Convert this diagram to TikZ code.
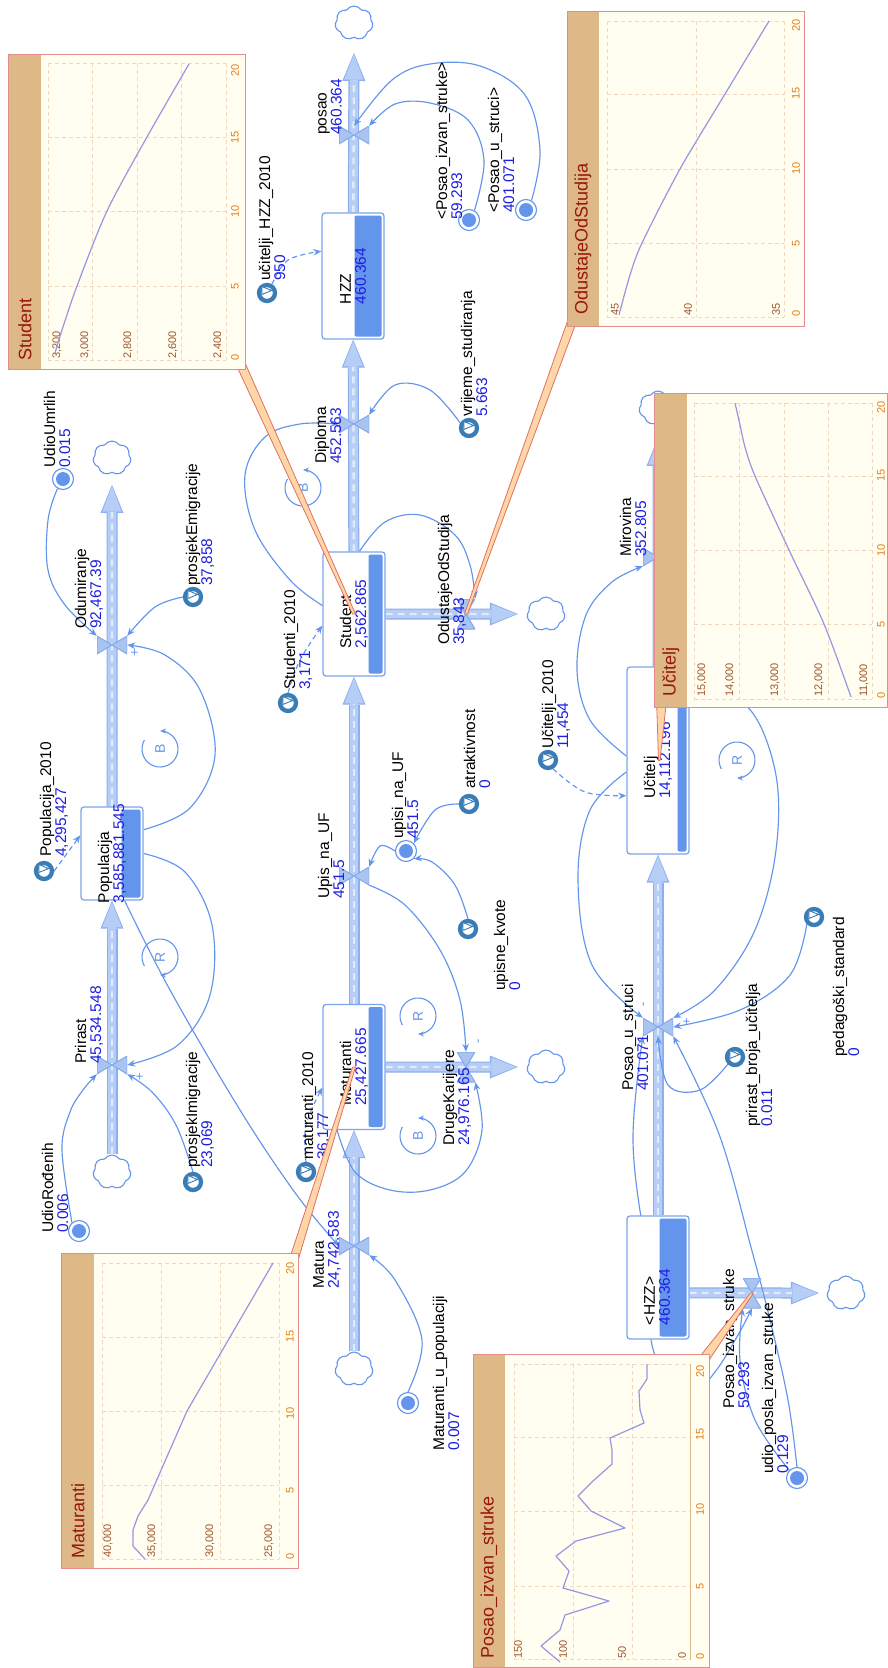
\documentclass[tikz,border=0pt]{standalone}
\usepackage{fontspec}
\setmainfont{Liberation Sans}
\usetikzlibrary{arrows.meta, shapes.geometric, shapes.symbols, calc}

\definecolor{connblue}{RGB}{100,149,237}
\definecolor{stockbar}{RGB}{100,149,237}
\definecolor{stockedge}{RGB}{125,165,236}
\definecolor{pipefill}{RGB}{182,205,246}
\definecolor{pipeedge}{RGB}{140,175,238}
\definecolor{valvefill}{RGB}{170,196,242}
\definecolor{valveedge}{RGB}{130,168,236}
\definecolor{valblue}{RGB}{30,30,225}
\definecolor{iconblue}{RGB}{58,125,182}
\definecolor{chartbg}{RGB}{255,254,240}
\definecolor{stripc}{RGB}{222,184,135}
\definecolor{chartedge}{RGB}{226,140,140}
\definecolor{titlec}{RGB}{150,22,12}
\definecolor{gridc}{RGB}{240,216,192}
\definecolor{ticktime}{RGB}{228,125,20}
\definecolor{tickval}{RGB}{160,85,45}
\definecolor{curvec}{RGB}{150,150,226}
\definecolor{calloutedge}{RGB}{226,112,96}
\definecolor{calloutfill}{RGB}{255,214,168}

\newcommand{\val}[1]{\textcolor{valblue}{#1}}
\newcommand{\lblfont}{\fontsize{15.5}{15}\selectfont}
\newcommand{\tickfont}{\fontsize{11}{11}\selectfont}
\newcommand{\barw}{15pt}

\pgfdeclarelayer{paper}
\pgfdeclarelayer{pipes}
\pgfdeclarelayer{callouts}
\pgfdeclarelayer{charts}
\pgfsetlayers{paper,pipes,main,callouts,charts}

\begin{document}
\begin{tikzpicture}[x=1pt, y=-1pt,
  stock/.style={rectangle, rounded corners=3pt, draw=stockedge, line width=1.3pt, fill=white,
                minimum width=62pt, inner sep=0pt,
                path picture={\fill[stockbar, rounded corners=2pt]
                  ([xshift=-2.5pt, yshift=-2.5pt]path picture bounding box.north east) rectangle
                  ([xshift={-2.5pt-\barw}, yshift=2.5pt]path picture bounding box.south east);}},
  barw/.code={\renewcommand{\barw}{#1}},
  stocklbl/.style={rotate=90, align=left, inner sep=0pt, font=\lblfont},
  lbl/.style={stocklbl, anchor=west},
  cloudnd/.style={cloud, cloud puffs=7, cloud puff arc=115, aspect=1.1, draw=connblue, fill=white,
                  line width=1.1pt, minimum width=38pt, minimum height=34pt, inner sep=0pt},
  valveV/.style={rectangle, inner sep=0pt, minimum width=30pt, minimum height=18pt,
    path picture={\filldraw[draw=valveedge, fill=valvefill, line width=1pt, line join=round]
      (path picture bounding box.north west) -- (path picture bounding box.center) -- (path picture bounding box.south west) -- cycle
      (path picture bounding box.north east) -- (path picture bounding box.center) -- (path picture bounding box.south east) -- cycle;}},
  valveH/.style={rectangle, inner sep=0pt, minimum width=18pt, minimum height=30pt,
    path picture={\filldraw[draw=valveedge, fill=valvefill, line width=1pt, line join=round]
      (path picture bounding box.north west) -- (path picture bounding box.center) -- (path picture bounding box.north east) -- cycle
      (path picture bounding box.south west) -- (path picture bounding box.center) -- (path picture bounding box.south east) -- cycle;}},
  var/.style={circle, draw=connblue, fill=white, line width=1.1pt, minimum size=21pt, inner sep=0pt,
    path picture={\fill[stockbar] (path picture bounding box.center) circle (7pt);}},
  param/.style={circle, draw=iconblue, fill=white, line width=4.3pt, minimum size=16pt, inner sep=0pt,
                label={[notch]125:{}}},
  notch/.style={isosceles triangle, draw=iconblue, fill=white, line width=0.9pt, inner sep=0pt,
                minimum height=8pt, minimum width=8pt, shape border rotate=-30, label distance=-10pt},
  conn/.style={draw=connblue, line width=1.15pt, -{Stealth[length=8pt, width=6.5pt]}},
  dconn/.style={conn, dash pattern=on 5pt off 3.5pt},
  pipe/.style={draw=pipeedge, line width=11pt, -{Triangle[length=28pt, width=23pt, line width=0pt]},
    postaction={draw=pipefill, line width=8.6pt, shorten >=1.6pt, -{Triangle[length=25pt, width=19.5pt, line width=0pt]}},
    postaction={draw=white, draw opacity=0.6, line width=2.4pt, dash pattern=on 7pt off 5pt, shorten >=27pt, -}},
  sgn/.style={rotate=90, text=connblue, font=\fontsize{13}{13}\selectfont, inner sep=0pt},
  looplbl/.style={rotate=90, text=connblue, font=\fontsize{14}{14}\selectfont, inner sep=0pt},
  loopc/.style={draw=connblue, line width=1.1pt, -{Stealth[length=6pt, width=5pt]}},
  chartbox/.style={rectangle, fill=chartbg, inner sep=0pt},
  chstrip/.style={fill=stripc},
  chframe/.style={draw=chartedge, line width=1.2pt},
  chgrid/.style={draw=gridc, line width=0.8pt, dash pattern=on 4pt off 3pt},
  tlabel/.style={rotate=90, text=ticktime, font=\tickfont, inner sep=0pt},
  vlabel/.style={tlabel, text=tickval, anchor=west},
  ctitle/.style={rotate=90, anchor=west, text=titlec, font=\fontsize{18}{18}\selectfont, inner sep=0pt},
  cline/.style={draw=curvec, line width=1.2pt, line join=round},
  callout/.style={draw=calloutedge, fill=calloutfill, line width=0.8pt, line join=round}
]
\useasboundingbox (0,0) rectangle (887,1668);
\begin{pgfonlayer}{paper}
  \fill[white] (0,0) rectangle (887,1668);
\end{pgfonlayer}

% stocks
\node[stock, minimum height=93pt, barw=19pt]  (populacija) at (112,853.5) {};
\node[stock, minimum height=125pt, barw=14pt] (maturanti)  at (354,1067) {};
\node[stock, minimum height=124pt, barw=14pt] (student)    at (354,614) {};
\node[stock, minimum height=126pt, barw=27pt] (hzz)        at (353,276) {};
\node[stock, minimum height=187pt, barw=9pt]  (ucitelj)    at (658,760.5) {};
\node[stock, minimum height=123pt, barw=27pt] (hzzg)       at (658,1277.5) {};
\node[stocklbl] (tPopulacija) at (populacija) {Populacija\\\val{3,585,881.545}};
\node[stocklbl] (tMaturanti)  at (maturanti)  {Maturanti\\\val{25,427.665}};
\node[stocklbl] (tStudent)    at (student)    {Student\\\val{2,562.865}};
\node[stocklbl] (tHzz)        at (hzz)        {HZZ\\\val{460.364}};
\node[stocklbl] (tUcitelj)    at (ucitelj)    {Učitelj\\\val{14,112.196}};
\node[stocklbl] (tHzzg)       at (657,1297)   {<HZZ>\\\val{460.364}};

% clouds
\node[cloudnd] (cPrirast) at (112,1172) {};
\node[cloudnd] (cOdum)    at (112,458) {};
\node[cloudnd] (cMatura)  at (354,1369) {};
\node[cloudnd] (cPosao)   at (354,23) {};
\node[cloudnd] (cDruge)   at (546,1067) {};
\node[cloudnd] (cOdust)   at (546,614) {};
\node[cloudnd] (cMirov)   at (658,408) {};
\node[cloudnd] (cPIS)     at (846,1293) {};

% valves
\node[valveV] (vPrirast) at (112,1065) {};
\node[valveV] (vOdum)    at (112,645) {};
\node[valveV] (vMatura)  at (354,1246) {};
\node[valveV] (vUpis)    at (354,876) {};
\node[valveV] (vDiploma) at (354,424) {};
\node[valveV] (vPosao)   at (354,135) {};
\node[valveH] (vDruge)   at (466,1067) {};
\node[valveH] (vOdust)   at (466,614) {};
\node[valveV] (vPUS)     at (658,1027) {};
\node[valveV] (vMirov)   at (658,557) {};
\node[valveH] (vPIS)     at (752,1293) {};

% flow labels
\node[lbl] (lPrirast) at (89,1064)  {Prirast\\\val{45,534.548}};
\node[lbl] (lOdum)    at (89,629)   {Odumiranje\\\val{92,467.39}};
\node[lbl] (lMatura)  at (327,1289) {Matura\\\val{24,742.583}};
\node[lbl] (lUpis)    at (331,899)  {Upis\_na\_UF\\\val{451.5}};
\node[lbl] (lDiploma) at (328,464)  {Diploma\\\val{452.563}};
\node[lbl] (lPosao)   at (330,135)  {posao\\\val{460.364}};
\node[lbl] (lDruge)   at (457,1146) {DrugeKarijere\\\val{24,976.165}};
\node[lbl] (lOdust)   at (452,645)  {OdustajeOdStudija\\\val{35,843}};
\node[lbl] (lPUS)     at (635,1091) {Posao\_u\_struci\\\val{401.071}};
\node[lbl] (lMirov)   at (633,557)  {Mirovina\\\val{352.805}};
\node[lbl] (lPIS)     at (736,1409) {Posao\_izvan\_struke\\\val{59.293}};

% variables
\node[var] (udioR) at (79,1231) {};
\node[lbl] (lUdioR) at (55,1233) {UdioRođenih\\\val{0.006}};
\node[var] (udioU) at (63,479) {};
\node[lbl] (lUdioU) at (57,468) {UdioUmrlih\\\val{0.015}};
\node[var] (mUp) at (408,1403) {};
\node[lbl] (lmUp) at (446,1451) {Maturanti\_u\_populaciji\\\val{0.007}};
\node[var] (upisi) at (406,851) {};
\node[lbl] (lUpisi) at (405,839) {upisi\_na\_UF\\\val{451.5}};
\node[var] (gPIS) at (469,220) {};
\node[lbl] (lgPIS) at (449,220) {<Posao\_izvan\_struke>\\\val{59.293}};
\node[var] (gPUS) at (526,210) {};
\node[lbl] (lgPUS) at (501,213) {<Posao\_u\_struci>\\\val{401.071}};
\node[var] (udioP) at (797,1478) {};
\node[lbl] (ludioP) at (775,1474) {udio\_posla\_izvan\_struke\\\val{0.129}};

% parameters
\node[param] (pPop) at (44,871) {};
\node[lbl] (lpPop) at (54,857) {Populacija\_2010\\\val{4,295,427}};
\node[param] (pImig) at (193,1182) {};
\node[lbl] (lpImig) at (200,1168) {prosjekImigracije\\\val{23,069}};
\node[param] (pEmig) at (193,597) {};
\node[lbl] (lpEmig) at (200,586) {prosjekEmigracije\\\val{37,858}};
\node[param] (pMat) at (306,1172) {};
\node[lbl] (lpMat) at (316,1160) {maturanti\_2010\\\val{36,177}};
\node[param] (pKvote) at (468,929) {};
\node[lbl] (lpKvote) at (507,991) {upisne\_kvote\\\val{0}};
\node[param] (pAtr) at (469,804) {};
\node[lbl] (lpAtr) at (477,789) {atraktivnost\\\val{0}};
\node[param] (pStud) at (288,703) {};
\node[lbl] (lpStud) at (298,690) {Studenti\_2010\\\val{3,171}};
\node[param] (pVrij) at (469,428) {};
\node[lbl] (lpVrij) at (474,417) {vrijeme\_studiranja\\\val{5.663}};
\node[param] (pHZZ) at (267,293) {};
\node[lbl] (lpHZZ) at (272,281) {učitelji\_HZZ\_2010\\\val{950}};
\node[param] (pUc) at (548,760) {};
\node[lbl] (lpUc) at (556,749) {Učitelji\_2010\\\val{11,454}};
\node[param] (pPrBr) at (735,1057) {};
\node[lbl] (lpPrBr) at (759,1127) {prirast\_broja\_učitelja\\\val{0.011}};
\node[param] (pPed) at (814,917) {};
\node[lbl] (lpPed) at (846,1057) {pedagoški\_standard\\\val{0}};

% loop markers and signs
\node[looplbl] (lpR1) at (160,957) {R};
\draw[loopc] ([shift={(210:18pt)}]lpR1.center) arc[start angle=210, end angle=-90, radius=18pt];
\node[looplbl] (lpB1) at (160,749) {B};
\draw[loopc] ([shift={(150:18pt)}]lpB1.center) arc[start angle=150, end angle=450, radius=18pt];
\node[looplbl] (lpB2) at (303,488) {B};
\draw[loopc] ([shift={(150:18pt)}]lpB2.center) arc[start angle=150, end angle=450, radius=18pt];
\node[looplbl] (lpR2) at (418,1016) {R};
\draw[loopc] ([shift={(210:18pt)}]lpR2.center) arc[start angle=210, end angle=-90, radius=18pt];
\node[looplbl] (lpB3) at (418,1136) {B};
\draw[loopc] ([shift={(150:18pt)}]lpB3.center) arc[start angle=150, end angle=450, radius=18pt];
\node[looplbl] (lpR3) at (737,760) {R};
\draw[loopc] ([shift={(210:18pt)}]lpR3.center) arc[start angle=210, end angle=-90, radius=18pt];
\node[sgn] (sg1) at (140,1077) {+};
\node[sgn] (sg2) at (135,653) {+};
\node[sgn] (sg3) at (480,1041) {-};
\node[sgn] (sg4) at (645,1004) {-};
\node[sgn] (sg5) at (687,1022) {+};

\begin{pgfonlayer}{pipes}
  % flows
  \draw[pipe] (cPrirast) -- (populacija);
  \draw[pipe] (populacija) -- ([yshift=-12pt]cOdum.south);
  \draw[pipe] (cMatura) -- (maturanti);
  \draw[pipe] (maturanti) -- (student);
  \draw[pipe] (student) -- (hzz);
  \draw[pipe] (hzz) -- ([yshift=-15pt]cPosao.south);
  \draw[pipe] (maturanti) -- ([xshift=-9pt]cDruge.west);
  \draw[pipe] (student) -- ([xshift=-9pt]cOdust.west);
  \draw[pipe] (hzzg) -- (ucitelj);
  \draw[pipe] (ucitelj) -- ([yshift=-15pt]cMirov.south);
  \draw[pipe] (hzzg.-26.6) -- ([xshift=-8pt]cPIS.west);

  % connectors
  \draw[conn] plot[smooth, tension=0.6] coordinates {(udioR.130) (62,1150) (70,1112) (83,1090) (vPrirast.south west)};
  \draw[conn] plot[smooth, tension=0.6] coordinates {(populacija.east) (185,872) (212,925) (210,995) (178,1045) (vPrirast.east)};
  \draw[conn] plot[smooth, tension=0.6] coordinates {(pImig.north) (176,1125) (152,1092) (vPrirast.south east)};
  \draw[conn] plot[smooth, tension=0.6] coordinates {(populacija.-75) (170,990) (240,1110) (296,1194) (vMatura.west)};
  \draw[conn] plot[smooth, tension=0.6] coordinates {(udioU.240) (48,520) (48,570) (65,605) (vOdum.north west)};
  \draw[conn] plot[smooth, tension=0.6] coordinates {(pEmig.west) (155,607) (vOdum.north east)};
  \draw[conn] plot[smooth, tension=0.6] coordinates {(populacija.37) (190,808) (215,755) (200,690) (165,655) (vOdum.east)};
  \draw[conn] plot[smooth, tension=0.6] coordinates {(mUp.north) (422,1340) (395,1280) (vMatura.south east)};
  \draw[dconn] plot[smooth, tension=0.6] coordinates {(pMat.north) (306,1125) (maturanti.213)};
  \draw[conn] plot[smooth, tension=0.6] coordinates {(maturanti.-105) (355,1172) (390,1190) (430,1190) (465,1172) (482,1130) (vDruge.south east)};
  \draw[conn] plot[smooth, tension=0.6] coordinates {(vUpis.south east) (405,905) (440,950) (460,1000) (vDruge.north)};
  \draw[conn] plot[smooth, tension=0.6] coordinates {(upisi.west) (380,846) (vUpis.north east)};
  \draw[conn] plot[smooth, tension=0.6] coordinates {(pKvote.north) (455,885) (432,862) (upisi.south east)};
  \draw[conn] plot[smooth, tension=0.6] coordinates {(pAtr.west) (435,810) (upisi.north east)};
  \draw[dconn] plot[smooth, tension=0.6] coordinates {(pStud.north) (300,660) (student.200)};
  \draw[conn] plot[smooth, tension=0.6] coordinates {(student.85) (385,522) (420,515) (455,535) (470,565) (vOdust.north east)};
  \draw[conn] plot[smooth, tension=0.6] coordinates {(student.165) (290,580) (255,530) (245,475) (265,437) (300,424) (vDiploma.west)};
  \draw[conn] plot[smooth, tension=0.6] coordinates {(pVrij.150) (430,390) (395,385) (vDiploma.north east)};
  \draw[dconn] plot[smooth, tension=0.6] coordinates {(pHZZ.60) (288,260) (hzz.142)};
  \draw[conn] plot[smooth, tension=0.6] coordinates {(gPIS.60) (484,160) (468,120) (430,103) (395,104) (vPosao.north east)};
  \draw[conn] plot[smooth, tension=0.6] coordinates {(gPUS.60) (540,150) (525,95) (480,66) (430,64) (392,80) (vPosao.north)};
  \draw[dconn] plot[smooth, tension=0.6] coordinates {(pUc.-60) (585,792) (ucitelj.228)};
  \draw[conn] plot[smooth, tension=0.6] coordinates {(ucitelj.172) (590,720) (577,670) (586,615) (612,582) (vMirov.south west)};
  \draw[conn] plot[smooth, tension=0.6] coordinates {(ucitelj.200) (590,810) (578,880) (592,965) (vPUS.north west)};
  \draw[conn] plot[smooth, tension=0.6] coordinates {(ucitelj.60) (745,705) (775,770) (776,850) (755,930) (715,990) (vPUS.north east)};
  \draw[conn] plot[smooth, tension=0.6] coordinates {(pPed.south west) (790,975) (740,1010) (vPUS.east)};
  \draw[conn] plot[smooth, tension=0.6] coordinates {(pPrBr.south west) (700,1090) (668,1085) (vPUS.south)};
  \draw[conn] plot[smooth, tension=0.6] coordinates {(hzzg.center) (645,1240) (633,1140) (vPUS.south west)};
  \draw[conn] plot[smooth, tension=0.6] coordinates {(hzzg.center) (650,1330) (662,1370) (690,1395) (715,1372) (738,1335) (vPIS.south)};
  \draw[conn] plot[smooth, tension=0.6] coordinates {(udioP.north west) (755,1420) (740,1360) (vPIS.south west)};
  \draw[conn] plot[smooth, tension=0.6] coordinates {(udioP.north) (788,1400) (770,1320) (752,1251) (719,1134) (vPUS.south east)};
  \draw[dconn] plot[smooth, tension=0.6] coordinates {(pPop.east) (populacija.150)};
\end{pgfonlayer}

\begin{pgfonlayer}{charts}
  % Student
  \node[chartbox, minimum width=236pt, minimum height=314pt] (chStudent) at (127,212) {};
  \fill[chstrip] (chStudent.north west) rectangle ([xshift=32pt]chStudent.south west);
  \foreach \yy in {360,286,211,137,63} \draw[chgrid] (48,\yy) -- (226,\yy);
  \foreach \xx in {48,92,137,181,226} \draw[chgrid] (\xx,63) -- (\xx,360);
  \foreach \yy/\tv in {357/0,286/5,211/10,137/15,70/20} \node[tlabel] (tS\tv) at (235,\yy) {\tv};
  \foreach \xx/\vv in {57/{3,200},85/{3,000},128/{2,800},173/{2,600},218/{2,400}} \node[vlabel] (vS\xx) at (\xx,359) {\vv};
  \node[ctitle] (tiStudent) at (25,361) {Student};
  \draw[cline] plot[smooth] coordinates {(55,353) (62,330) (77,286) (107,211) (147,137) (189,64)};
  \draw[chframe] (chStudent.north west) rectangle (chStudent.south east);

  % OdustajeOdStudija
  \node[chartbox, minimum width=236pt, minimum height=314pt] (chOdust) at (686,169) {};
  \fill[chstrip] (chOdust.north west) rectangle ([xshift=31pt]chOdust.south west);
  \foreach \yy in {317,243,169,94,21} \draw[chgrid] (607,\yy) -- (784,\yy);
  \foreach \xx in {607,696,784} \draw[chgrid] (\xx,21) -- (\xx,317);
  \foreach \yy/\tv in {313/0,243/5,168/10,93/15,25/20} \node[tlabel] (tO\tv) at (796,\yy) {\tv};
  \foreach \xx/\vv in {615/45,688/40,776/35} \node[vlabel] (vO\xx) at (\xx,316) {\vv};
  \node[ctitle] (tiOdust) at (583,315) {OdustajeOdStudija};
  \draw[cline] plot[smooth] coordinates {(619,315) (630,275) (642,243) (680,169) (725,94) (769,21)};
  \draw[chframe] (chOdust.north west) rectangle (chOdust.south east);

  % Ucitelj
  \node[chartbox, minimum width=232pt, minimum height=313pt] (chUcitelj) at (771,550.5) {};
  \fill[chstrip] (chUcitelj.north west) rectangle ([xshift=32pt]chUcitelj.south west);
  \foreach \yy in {699,624,550,476,403} \draw[chgrid] (694,\yy) -- (872,\yy);
  \foreach \xx in {694,739,784,828,872} \draw[chgrid] (\xx,403) -- (\xx,699);
  \foreach \yy/\tv in {695/0,624/5,550/10,475/15,407/20} \node[tlabel] (tU\tv) at (881,\yy) {\tv};
  \foreach \xx/\vv in {702/{15,000},730/{14,000},775/{13,000},819/{12,000},864/{11,000}} \node[vlabel] (vU\xx) at (\xx,697) {\vv};
  \node[ctitle] (tiUcitelj) at (671,697) {Učitelj};
  \draw[cline] plot[smooth] coordinates {(851,697) (824,624) (789,550) (755,476) (745,447) (740,425) (735,403)};
  \draw[chframe] (chUcitelj.north west) rectangle (chUcitelj.south east);

  % Maturanti
  \node[chartbox, minimum width=236pt, minimum height=314pt] (chMatur) at (180,1411) {};
  \fill[chstrip] (chMatur.north west) rectangle ([xshift=32pt]chMatur.south west);
  \foreach \yy in {1559,1485,1411,1337,1263} \draw[chgrid] (102,\yy) -- (279,\yy);
  \foreach \xx in {102,161,220,279} \draw[chgrid] (\xx,1263) -- (\xx,1559);
  \foreach \yy/\tv in {1556/0,1490/5,1413/10,1336/15,1268/20} \node[tlabel] (tM\tv) at (290,\yy) {\tv};
  \foreach \xx/\vv in {108/{40,000},152/{35,000},210/{30,000},269/{25,000}} \node[vlabel] (vM\xx) at (\xx,1558) {\vv};
  \node[ctitle] (tiMatur) at (78,1559) {Maturanti};
  \draw[cline] (145,1559) -- (133,1546) -- (133,1530) -- (138,1516) -- (148,1500) -- (187,1411) -- (230,1337) -- (273,1263);
  \draw[chframe] (chMatur.north west) rectangle (chMatur.south east);

  % Posao_izvan_struke
  \node[chartbox, minimum width=235pt, minimum height=312pt] (chPIS) at (591.5,1511) {};
  \fill[chstrip] (chPIS.north west) rectangle ([xshift=31pt]chPIS.south west);
  \foreach \yy in {1364,1437,1511,1586,1659} \draw[chgrid] (514,\yy) -- (690,\yy);
  \foreach \xx in {514,573,632} \draw[chgrid] (\xx,1364) -- (\xx,1659);
  \draw[draw=stripc, line width=1pt] (690,1364) -- (690,1660);
  \foreach \yy/\tv in {1656/0,1586/5,1509/10,1434/15,1371/20} \node[tlabel] (tP\tv) at (700,\yy) {\tv};
  \foreach \xx/\vv in {518/150,563/100,622/50,682/0} \node[vlabel] (vP\xx) at (\xx,1659) {\vv};
  \node[ctitle] (tiPIS) at (489,1659) {Posao\_izvan\_struke};
  \draw[cline] (560,1662) -- (541,1646) -- (560,1630) -- (565,1615) -- (609,1601) -- (563,1588)
    -- (569,1571) -- (556,1556) -- (576,1541) -- (625,1528) -- (591,1511) -- (578,1496)
    -- (593,1481) -- (612,1464) -- (612,1450) -- (610,1438) -- (644,1423) -- (640,1410)
    -- (639,1391) -- (647,1379) -- (647,1364);
  \draw[chframe] (chPIS.north west) rectangle (chPIS.south east);
\end{pgfonlayer}

\begin{pgfonlayer}{callouts}
  \filldraw[callout] ([xshift=-7pt]chStudent.south east) -- ([yshift=6pt]chStudent.south east)
    -- ([xshift=1.5pt]student.center) -- ([xshift=-1.5pt]student.center) -- cycle;
  \filldraw[callout] ([xshift=7pt]chOdust.south west) -- ([yshift=6pt]chOdust.south west)
    -- ([xshift=-1.5pt]vOdust.center) -- ([xshift=1.5pt]vOdust.center) -- cycle;
  \filldraw[callout] ([xshift=2pt]chUcitelj.south west) -- ([xshift=11pt]chUcitelj.south west)
    -- ([xshift=2pt]ucitelj.center) -- ([xshift=0.5pt]ucitelj.center) -- cycle;
  \filldraw[callout] ([xshift=-7pt]chMatur.north east) -- ([yshift=-6pt]chMatur.north east)
    -- ([xshift=1.5pt]maturanti.center) -- ([xshift=-1.5pt]maturanti.center) -- cycle;
  \filldraw[callout] ([xshift=-8pt]chPIS.north east) -- ([yshift=-5pt]chPIS.north east)
    -- ([xshift=1.4pt]vPIS.center) -- ([xshift=-1.4pt]vPIS.center) -- cycle;
\end{pgfonlayer}
\end{tikzpicture}
\end{document}
